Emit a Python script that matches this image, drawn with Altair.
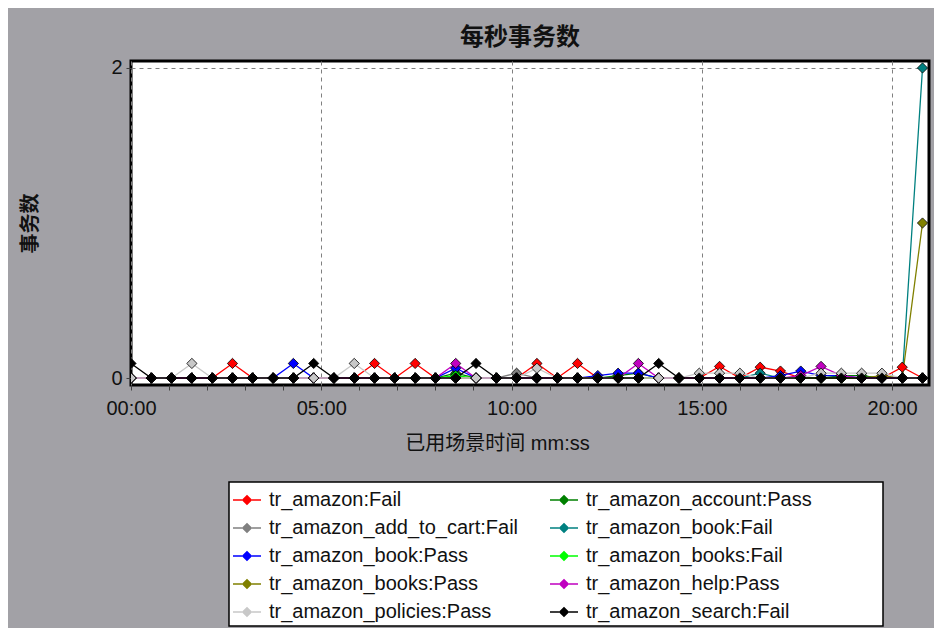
import altair as alt
import pandas as pd

# ---- data ----
series = [
    "tr_amazon:Fail", "tr_amazon_account:Pass", "tr_amazon_add_to_cart:Fail", "tr_amazon_book:Fail",
    "tr_amazon_book:Pass", "tr_amazon_books:Fail", "tr_amazon_books:Pass", "tr_amazon_help:Pass",
    "tr_amazon_policies:Pass", "tr_amazon_search:Fail",
]
colors = ["#ff0000", "#008000", "#808080", "#008080", "#0000ff",
          "#00ff00", "#808000", "#c000c0", "#c8c8c8", "#000000"]

elapsed_s = [0, 32, 64, 96, 128, 160, 192, 224, 256, 288,
             320, 352, 384, 416, 448, 480, 512, 544, 576, 608,
             640, 672, 704, 736, 768, 800, 832, 864, 896, 928,
             960, 992, 1024, 1056, 1088, 1120, 1152, 1184, 1216, 1248]

amazon_fail = [0, 0, 0, 0, 0, 0.094, 0, 0, 0, 0,
               0, 0, 0.094, 0, 0.094, 0, 0, 0, 0, 0,
               0.094, 0, 0.094, 0, 0, 0, 0, 0, 0, 0.075,
               0, 0.07, 0.045, 0, 0, 0, 0, 0, 0.07, 0]
account_pass = [0, 0, 0, 0, 0, 0, 0, 0, 0, 0,
                0, 0, 0, 0, 0, 0, 0.031, 0, 0, 0,
                0, 0, 0, 0, 0.016, 0.031, 0, 0, 0, 0,
                0, 0, 0, 0, 0, 0.016, 0.016, 0, 0, 0]
add_to_cart_fail = [0, 0, 0, 0, 0, 0, 0, 0, 0, 0,
                    0, 0, 0, 0, 0, 0, 0, 0, 0, 0.031,
                    0, 0, 0, 0, 0, 0, 0, 0, 0, 0,
                    0, 0, 0, 0, 0, 0, 0, 0, 0, 0]
book_fail = [0, 0, 0, 0, 0, 0, 0, 0, 0, 0,
             0, 0, 0, 0, 0, 0, 0, 0, 0, 0,
             0, 0, 0, 0, 0, 0, 0, 0, 0, 0,
             0, 0.031, 0, 0, 0, 0, 0, 0, 0, 2.0]
book_pass = [0, 0, 0, 0, 0, 0, 0, 0, 0.094, 0,
             0, 0, 0, 0, 0, 0, 0.063, 0, 0, 0,
             0, 0, 0, 0.016, 0.031, 0.031, 0, 0, 0, 0,
             0, 0, 0.016, 0.045, 0.016, 0.016, 0, 0, 0, 0]
books_fail = [0, 0, 0, 0, 0, 0, 0, 0, 0, 0,
              0, 0, 0, 0, 0, 0, 0.016, 0, 0, 0,
              0, 0, 0, 0, 0, 0, 0, 0, 0, 0,
              0, 0, 0, 0, 0, 0, 0, 0, 0, 0]
books_pass = [0, 0, 0, 0, 0, 0, 0, 0, 0, 0,
              0, 0, 0, 0, 0, 0, 0, 0, 0, 0,
              0, 0, 0, 0, 0, 0, 0, 0, 0, 0,
              0, 0, 0, 0, 0, 0, 0, 0.016, 0, 1.0]
help_pass = [0, 0, 0, 0, 0, 0, 0, 0, 0, 0,
             0, 0, 0, 0, 0, 0, 0.094, 0, 0, 0,
             0, 0, 0, 0, 0, 0.094, 0, 0, 0, 0,
             0, 0, 0, 0.016, 0.075, 0.016, 0, 0, 0, 0]
policies_pass = [0, 0, 0, 0.094, 0, 0, 0, 0, 0, 0,
                 0, 0.094, 0, 0, 0, 0, 0, 0, 0, 0,
                 0.063, 0, 0, 0, 0, 0, 0, 0, 0.031, 0.031,
                 0.031, 0, 0, 0, 0.031, 0.031, 0.031, 0.031, 0, 0]
search_fail = [0.094, 0, 0, 0, 0, 0, 0, 0, 0, 0.094,
               0, 0, 0, 0, 0, 0, 0, 0.094, 0, 0,
               0, 0, 0, 0, 0, 0, 0.094, 0, 0, 0,
               0, 0, 0, 0, 0, 0, 0, 0, 0, 0]

values_by_series = [amazon_fail, account_pass, add_to_cart_fail, book_fail, book_pass,
                    books_fail, books_pass, help_pass, policies_pass, search_fail]

x_tick_minutes = [0, 1, 2, 3, 4, 5, 6, 7, 8, 9, 10, 11, 12, 13, 14, 15, 16, 17, 18, 19, 20]
y_tick_values = [0, 1, 2]

rows = []
for name, vals in zip(series, values_by_series):
    for t, v in zip(elapsed_s, vals):
        rows.append({"series": name, "t": t, "tps": v})
df = pd.DataFrame(rows)

LATIN = "Liberation Sans, Noto Sans CJK SC"
CJK = "Noto Sans CJK SC"

legend_symbol = ("M-1,-0.06H-0.36V0.06H-1Z M0.36,-0.06H1V0.06H0.36Z "
                 "M0,-0.38L0.38,0L0,0.38L-0.38,0Z")
# widen the legend box on the right like the reference (trailing blanks kept by a zero-width char)
pad_label = "tr_amazon_account:Pass"
pad_tail = "\u00a0" * 12 + "\u200b"

x_enc = alt.X(
    "minutes:Q",
    scale=alt.Scale(domain=[0, 20.97], nice=False, zero=False),
    axis=alt.Axis(
        values=x_tick_minutes, tickCount=30,
        labelExpr="datum.value % 5 == 0 ? ((datum.value < 10 ? '0' : '') + datum.value + ':00') : ''",
        labelOverlap=False, labelFlush=False,
        grid=True, gridDash=[4, 4], gridColor="#808080", gridWidth=1,
        gridOpacity={"condition": {"test": "datum.value % 5 == 0", "value": 1}, "value": 0},
        domain=False, tickSize=5, tickColor="#404040",
        labelFont=LATIN, labelFontSize=20, labelColor="#111111", labelPadding=8,
        title="已用场景时间 mm:ss", titleFont=LATIN, titleFontSize=20, titleFontWeight="normal",
        titleColor="#111111", titleX=366, titleY=58, titleBaseline="middle", titleAlign="center",
    ),
)
y_enc = alt.Y(
    "tps:Q",
    scale=alt.Scale(domain=[-0.045, 2.045], nice=False, zero=False),
    axis=alt.Axis(
        values=y_tick_values, tickCount=10, labelOverlap=False, format="d",
        grid=True, gridDash=[4, 4], gridColor="#808080", gridWidth=1,
        domain=False, tickSize=5, tickColor="#404040",
        labelFont=LATIN, labelFontSize=20, labelColor="#111111", labelPadding=4,
        title="事务数", titleFont=CJK, titleFontSize=20, titleFontWeight="bold",
        titleColor="#111111", titleX=-101, titleY=162, titleBaseline="middle", titleAlign="center",
        titleAngle=270,
    ),
)
color_scale = alt.Scale(domain=series, range=colors)

shared_legend = alt.Legend(
    title=None, orient="none", legendX=98, legendY=421, columns=2, direction="horizontal",
    symbolType=legend_symbol, symbolSize=784, symbolStrokeWidth=0, symbolOpacity=1,
    labelFont=LATIN, labelFontSize=20, labelColor="#111111", labelLimit=0,
    labelOffset=8, rowPadding=4, columnPadding=31, padding=4,
    fillColor="white", strokeColor="black",
    labelExpr=f"datum.label == '{pad_label}' ? datum.label + '{pad_tail}' : datum.label",
)

base = alt.Chart(df).transform_calculate(minutes="datum.t / 60")

lines = base.mark_line(strokeWidth=1.3, clip=True).encode(
    x=x_enc, y=y_enc,
    stroke=alt.Stroke("series:N", scale=color_scale, legend=shared_legend),
    detail="series:N",
)
points = base.mark_point(shape="diamond", filled=True, size=105, opacity=1,
                         stroke="#000000", strokeWidth=0.8, clip=True).encode(
    x=x_enc, y=y_enc,
    color=alt.Color("series:N", scale=color_scale, legend=shared_legend),
)

chart = alt.layer(lines, points).properties(
    width=798, height=324,
    background="#a2a1a6",
    autosize=alt.AutoSizeParams(type="none"),
    padding={"left": 123, "top": 53, "right": 5, "bottom": 243},
    title=alt.Title("每秒事务数", font=CJK, fontSize=24, fontWeight="bold", color="#111111",
                    anchor="middle", offset=8, dx=-10),
).configure_view(
    fill="white", stroke="black", strokeWidth=3,
).configure_legend(
    strokeWidth=1.5,
)

chart.save("out.html", embed_options={"renderer": "svg", "actions": False})
